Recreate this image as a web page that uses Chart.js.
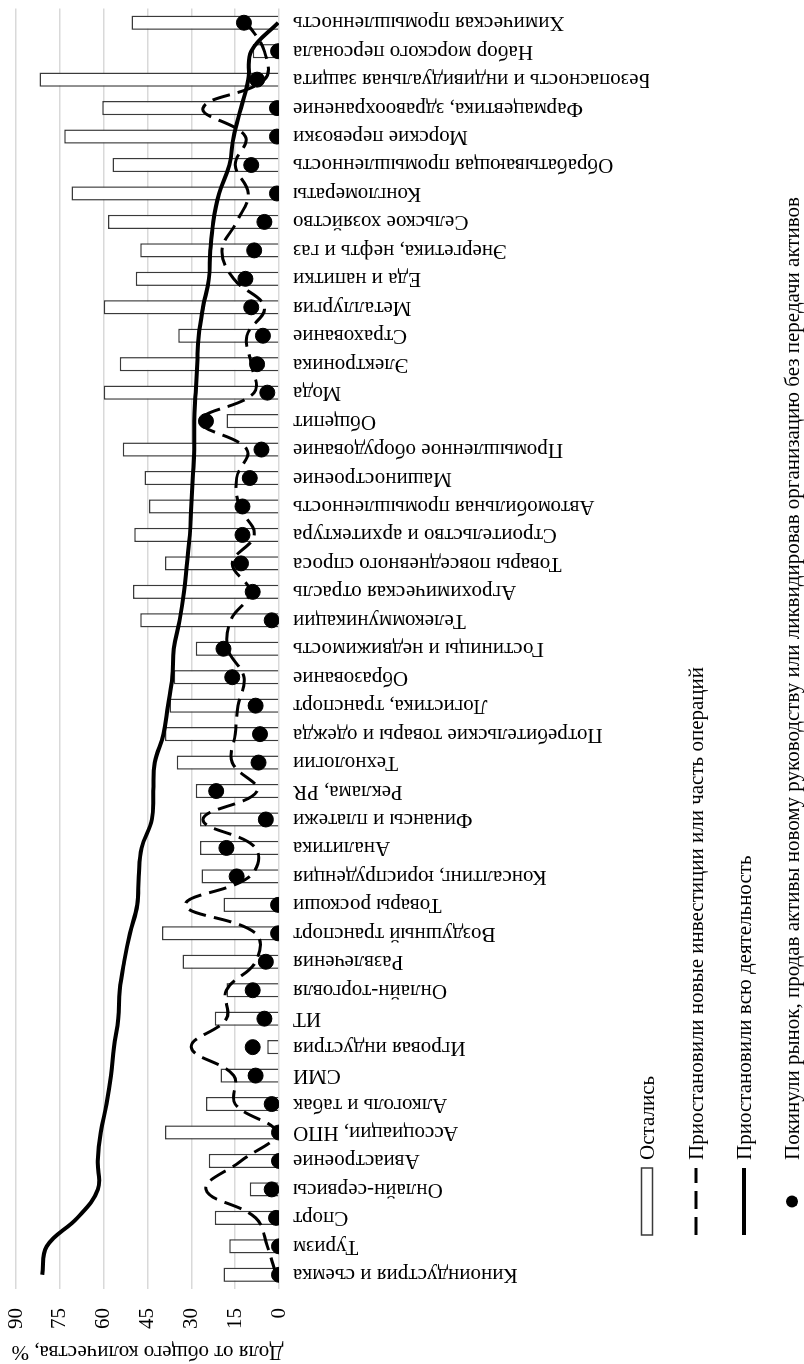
<!DOCTYPE html>
<html>
<head>
<meta charset="utf-8">
<script src="https://cdn.jsdelivr.net/npm/chart.js@4"></script>
<style>
    html, body { margin: 0; padding: 0; background: #fff; }
    body { width: 804px; height: 1364px; position: relative; overflow: hidden; }
    /* chart is drawn upright, then turned a quarter to the left like the original figure */
    #wrap {
        position: absolute; left: 0; top: 0;
        width: 1364px; height: 804px;
        transform-origin: 0 0;
        transform: translateY(1364px) rotate(-90deg);
    }
</style>
</head>
<body>
<div id="wrap"><canvas id="chart" width="1364" height="804"></canvas></div>
<script>
const categories = [
    "Киноиндустрия и съемка", "Туризм", "Спорт", "Онлайн-сервисы", "Авиастроение",
    "Ассоциации, НПО", "Алкоголь и табак", "СМИ", "Игровая индустрия", "ИТ",
    "Онлайн-торговля", "Развлечения", "Воздушный транспорт", "Товары роскоши",
    "Консалтинг, юриспруденция", "Аналитика", "Финансы и платежи", "Реклама, PR",
    "Технологии", "Потребительские товары и одежда", "Логистика, транспорт",
    "Образование", "Гостиницы и недвижимость", "Телекоммуникации",
    "Агрохимическая отрасль", "Товары повседневного спроса", "Строительство и архитектура",
    "Автомобильная промышленность", "Машиностроение", "Промышленное оборудование",
    "Общепит", "Мода", "Электроника", "Страхование", " Металлургия", "Еда и напитки",
    "Энергетика, нефть и газ", "Сельское хозяйство", "Конгломераты",
    "Обрабатывающая промышленность", "Морские перевозки", "Фармацевтика, здравоохранение",
    "Безопасность и индивидуальная защита", "Набор морского персонала",
    "Химическая промышленность"
];

// Остались
const stayed = [
    19, 17, 22, 10, 24, 39, 25, 20, 4, 22,
    18, 33, 40, 19, 26.5, 27, 27, 28.5, 35, 39,
    37.5, 36, 28.5, 47.5, 50, 39, 49.5, 44.5, 46, 53.5,
    18, 60, 54.5, 34.5, 60, 49, 47.5, 58.5, 71, 57,
    73.5, 60.5, 82, 9, 50.5
];

// Приостановили новые инвестиции или часть операций
const pausedPart = [
    1, 4, 8, 25, 13, 1, 15, 15.5, 30, 18,
    18, 8, 8, 32, 10, 8, 26, 7.5, 16, 15,
    14, 12, 17.5, 16.5, 10, 16, 8.5, 13.5, 14.5, 11,
    27, 8.5, 9.5, 11, 5, 15.5, 19.5, 14.5, 10.5, 15,
    11.5, 26, 5, 5, 11
];

// Приостановили всю деятельность
const pausedAll = [
    81, 79.5, 69, 62, 62, 61, 59, 57.5, 56.5, 55,
    54.5, 53, 51, 48.5, 48, 47, 43.5, 43, 42.5, 39.5,
    38, 36.5, 36, 34, 32.5, 31.5, 30.5, 30, 29.5, 29,
    29, 28.5, 28, 27.5, 26, 24, 23.5, 22.5, 20.5, 17,
    15.5, 13, 10.5, 9.5, 0.3
];

// Покинули рынок
const exited = [
    0, 0, 1, 2.5, 0, 0, 2.5, 8, 9, 5,
    9, 4.5, 0.3, 0.3, 14.5, 18, 4.5, 21.5, 7, 6.5,
    8, 16, 19, 2.5, 9, 13, 12.5, 12.5, 10, 6,
    25, 4, 7.5, 5.5, 9.5, 11.5, 8.5, 5, 0.7, 9.5,
    0.7, 0.7, 7.5, 0.3, 12
];

const valueTicks = [0, 15, 30, 45, 60, 75, 90];

const seriesNames = [
    "Остались",
    "Приостановили новые инвестиции или часть операций",
    "Приостановили всю деятельность",
    "Покинули рынок, продав активы новому руководству или ликвидировав организацию без передачи активов"
];

const FONT = "'Liberation Serif', 'Times New Roman', serif";
Chart.defaults.font.family = FONT;
Chart.defaults.font.size = 21;
Chart.defaults.color = "#000";

/* Legend: one entry per row, like the source figure */
const rowLegend = {
    id: "rowLegend",
    afterDraw(chart) {
        const ctx = chart.ctx;
        const x0 = 129, keyW = 67, textX = 204;
        const rows = [647, 696, 744, 792];
        ctx.save();
        ctx.font = "21px " + FONT;
        ctx.fillStyle = "#000";
        ctx.textBaseline = "middle";
        rows.forEach((y, i) => {
            const ds = chart.data.datasets[i];
            ctx.save();
            if (i === 0) {
                ctx.fillStyle = ds.backgroundColor;
                ctx.strokeStyle = ds.borderColor;
                ctx.lineWidth = 1.5;
                ctx.fillRect(x0, y - 5.5, keyW, 11);
                ctx.strokeRect(x0, y - 5.5, keyW, 11);
            } else if (i === 3) {
                ctx.fillStyle = ds.pointBackgroundColor;
                ctx.beginPath();
                ctx.arc(x0 + keyW / 2, y, 6, 0, Math.PI * 2);
                ctx.fill();
            } else {
                ctx.strokeStyle = ds.borderColor;
                ctx.lineWidth = ds.borderWidth;
                ctx.setLineDash(ds.borderDash || []);
                ctx.beginPath();
                ctx.moveTo(x0, y);
                ctx.lineTo(x0 + keyW, y);
                ctx.stroke();
            }
            ctx.restore();
            ctx.fillText(seriesNames[i], textX, y + 1);
        });
        ctx.restore();
    }
};

new Chart(document.getElementById("chart"), {
    type: "bar",
    data: {
        labels: categories,
        datasets: [
            {
                type: "bar",
                label: seriesNames[0],
                data: stayed,
                backgroundColor: "#ffffff",
                borderColor: "#3a3a3a",
                borderWidth: 1.5,
                barPercentage: 0.5,
                categoryPercentage: 1,
                order: 4
            },
            {
                type: "line",
                label: seriesNames[1],
                data: pausedPart,
                borderColor: "#000",
                borderWidth: 3,
                borderDash: [18, 8],
                pointRadius: 0,
                tension: 0.4,
                fill: false,
                order: 3
            },
            {
                type: "line",
                label: seriesNames[2],
                data: pausedAll,
                borderColor: "#000",
                borderWidth: 4,
                pointRadius: 0,
                tension: 0.4,
                fill: false,
                order: 2
            },
            {
                type: "line",
                label: seriesNames[3],
                data: exited,
                showLine: false,
                pointRadius: 7.5,
                pointBackgroundColor: "#000",
                pointBorderColor: "#000",
                order: 1
            }
        ]
    },
    options: {
        responsive: false,
        animation: false,
        devicePixelRatio: 1,
        layout: { padding: { top: 16, right: 3, bottom: 155, left: 0 } },
        plugins: {
            legend: { display: false },
            tooltip: { enabled: false }
        },
        scales: {
            x: {
                grid: { display: false, drawTicks: false },
                border: { display: false },
                ticks: {
                    autoSkip: false,
                    minRotation: 90,
                    maxRotation: 90,
                    padding: 14
                },
                afterFit: scale => {
                    scale.height = 370;
                    scale.paddingLeft = 0;
                    scale.paddingRight = 0;
                }
            },
            y: {
                min: 0,
                max: 90,
                afterBuildTicks: scale => {
                    scale.ticks = valueTicks.map(v => ({ value: v }));
                },
                grid: { color: "#d9d9d9", lineWidth: 1.5, drawTicks: false },
                border: { display: false },
                ticks: { padding: 19 },
                title: {
                    display: true,
                    text: "Доля от общего количества, %",
                    padding: { top: 0, bottom: 0 }
                },
                afterFit: scale => {
                    scale.width = 75;
                    scale.paddingTop = 0;
                    scale.paddingBottom = 0;
                }
            }
        }
    },
    plugins: [rowLegend]
});
</script>
</body>
</html>
